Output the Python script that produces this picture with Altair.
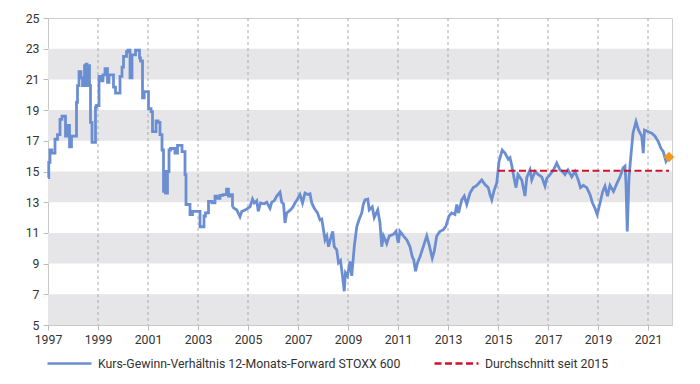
import altair as alt
import pandas as pd

# ---- data ----
# early, monthly-stepped section (decimal year, P/E)
step_years = [1997.00, 1997.03, 1997.08, 1997.15, 1997.28, 1997.38, 1997.48, 1997.56, 1997.70, 1997.76,
              1997.86, 1997.94, 1998.14, 1998.18, 1998.24, 1998.32, 1998.38, 1998.46, 1998.52, 1998.56,
              1998.62, 1998.66, 1998.70, 1998.76, 1998.90, 1998.94, 1999.04, 1999.12, 1999.20, 1999.28,
              1999.38, 1999.44, 1999.62, 1999.70, 1999.88, 1999.96, 2000.02, 2000.14, 2000.20, 2000.28,
              2000.36, 2000.50, 2000.66, 2000.70, 2000.78, 2000.85, 2001.02, 2001.12, 2001.18, 2001.32,
              2001.40, 2001.48, 2001.56, 2001.62, 2001.66, 2001.70, 2001.78, 2001.84, 2001.90, 2002.08,
              2002.18, 2002.36, 2002.48, 2002.52, 2002.68, 2002.78, 2003.08, 2003.24, 2003.30, 2003.42,
              2003.56, 2003.68, 2003.76, 2003.88, 2004.00, 2004.14, 2004.22, 2004.30, 2004.38]
step_values = [14.6, 15.6, 16.4, 16.2, 17.1, 17.4, 18.4, 18.6, 17.3, 18.0,
               16.6, 17.3, 19.5, 20.6, 21.5, 21.1, 20.6, 21.9, 22.0, 20.6,
               21.9, 20.6, 18.2, 16.9, 19.2, 19.3, 21.2, 20.9, 21.3, 21.7,
               20.8, 21.3, 20.5, 20.1, 21.2, 21.8, 22.5, 22.8, 22.9, 21.1,
               22.6, 22.9, 22.4, 22.2, 19.8, 20.2, 19.1, 18.9, 17.6, 18.3,
               18.2, 17.4, 16.4, 13.7, 15.0, 13.6, 15.0, 16.4, 16.5, 16.2,
               16.7, 16.3, 14.8, 12.85, 12.2, 12.4, 11.4, 12.1, 12.3, 13.05,
               12.95, 13.4, 13.25, 13.45, 13.5, 13.85, 13.4, 13.5, 12.7]

# later, weekly-looking section
line_years = [2004.38, 2004.45, 2004.55, 2004.68, 2004.75, 2004.90, 2005.08, 2005.18, 2005.25, 2005.35,
              2005.41, 2005.50, 2005.65, 2005.75, 2005.88, 2005.95, 2006.05, 2006.15, 2006.28, 2006.35,
              2006.42, 2006.48, 2006.55, 2006.70, 2006.80, 2006.88, 2006.98, 2007.08, 2007.18, 2007.28,
              2007.40, 2007.48, 2007.55, 2007.65, 2007.78, 2007.88, 2007.95, 2008.02, 2008.08, 2008.15,
              2008.22, 2008.30, 2008.39, 2008.45, 2008.55, 2008.62, 2008.70, 2008.78, 2008.85, 2008.90,
              2008.98, 2009.08, 2009.15, 2009.25, 2009.35, 2009.45, 2009.55, 2009.61, 2009.68, 2009.79,
              2009.85, 2009.97, 2010.05, 2010.19, 2010.28, 2010.35, 2010.42, 2010.55, 2010.65, 2010.81,
              2010.92, 2011.01, 2011.08, 2011.22, 2011.35, 2011.48, 2011.57, 2011.63, 2011.70, 2011.78,
              2011.88, 2012.01, 2012.15, 2012.25, 2012.37, 2012.45, 2012.55, 2012.68, 2012.81, 2012.92,
              2013.04, 2013.15, 2013.28, 2013.35, 2013.42, 2013.55, 2013.65, 2013.75, 2013.88, 2014.01,
              2014.12, 2014.24, 2014.35, 2014.48, 2014.61, 2014.68, 2014.75, 2014.85, 2014.95, 2015.04,
              2015.17, 2015.28, 2015.41, 2015.48, 2015.55, 2015.65, 2015.72, 2015.80, 2015.95, 2016.08,
              2016.15, 2016.28, 2016.35, 2016.48, 2016.61, 2016.75, 2016.88, 2016.95, 2017.08, 2017.22,
              2017.35, 2017.48, 2017.58, 2017.68, 2017.80, 2017.95, 2018.08, 2018.21, 2018.30, 2018.41,
              2018.55, 2018.68, 2018.78, 2018.88, 2018.97, 2019.08, 2019.19, 2019.28, 2019.38, 2019.48,
              2019.62, 2019.75, 2019.88, 2020.01, 2020.08, 2020.12, 2020.17, 2020.24, 2020.32, 2020.40,
              2020.52, 2020.62, 2020.75, 2020.81, 2020.86, 2021.00, 2021.15, 2021.28, 2021.41, 2021.52,
              2021.61, 2021.72, 2021.81]
line_values = [12.7, 12.6, 12.5, 12.05, 12.4, 12.5, 12.7, 13.2, 12.95, 13.1,
               12.4, 12.95, 12.9, 13.0, 12.6, 13.0, 13.1, 13.4, 13.65, 13.0,
               12.9, 11.65, 12.3, 12.5, 12.7, 12.95, 13.2, 13.5, 12.95, 13.6,
               13.5, 13.55, 12.95, 12.6, 12.3, 11.85, 11.9, 11.2, 10.55, 10.8,
               10.1, 10.6, 11.1, 10.1, 9.9, 9.05, 9.2, 8.2, 7.2, 8.4,
               8.2, 9.15, 8.2, 10.1, 11.4, 11.9, 12.3, 12.85, 13.15, 13.2,
               12.5, 12.7, 12.0, 12.5, 11.65, 10.1, 10.8, 10.3, 10.8, 10.9,
               11.1, 10.35, 11.1, 10.8, 10.55, 10.1, 9.45, 9.25, 8.5, 9.05,
               9.45, 10.1, 10.8, 10.2, 9.35, 9.8, 10.8, 11.1, 11.2, 11.45,
               12.1, 12.3, 12.2, 12.85, 12.3, 13.15, 13.4, 12.85, 13.6, 13.95,
               14.05, 14.25, 14.45, 14.15, 13.95, 13.5, 13.15, 13.8, 14.25, 15.65,
               16.4, 16.2, 15.8, 15.9, 15.4, 14.5, 13.95, 14.8, 14.45, 13.4,
               14.6, 15.1, 14.45, 15.0, 14.8, 14.65, 14.05, 14.55, 14.8, 15.1,
               15.55, 15.1, 15.0, 14.8, 15.1, 14.65, 15.0, 14.45, 13.95, 14.1,
               13.95, 13.5, 12.95, 12.6, 12.2, 12.95, 13.7, 14.05, 13.4, 14.1,
               13.7, 14.2, 14.65, 15.25, 15.35, 14.2, 11.1, 14.6, 16.1, 17.5,
               18.25, 17.7, 17.3, 16.2, 17.7, 17.6, 17.5, 17.3, 16.95, 16.5,
               16.3, 15.65, 15.9]

avg_years = [2015.0, 2021.84]
avg_values = [15.05, 15.05]

last_year = [2021.84]
last_value = [15.95]

series_names = ["Kurs-Gewinn-Verhältnis 12-Monats-Forward STOXX 600", "Durchschnitt seit 2015"]
series_colors = ["#6b8ed2", "#d0112b"]

tick_years = list(range(1997, 2022, 2))
grid_years = list(range(1999, 2022, 2))
y_ticks = list(range(5, 26, 2))
band_lo = [5, 9, 13, 17, 21]
band_hi = [7, 11, 15, 19, 23]

FONT = "Roboto"
FS = 12.3

# ---- tables ----
step_df = pd.DataFrame({"year": step_years, "pe": step_values, "series": series_names[0]})
line_df = pd.DataFrame({"year": line_years, "pe": line_values, "series": series_names[0]})
avg_df = pd.DataFrame({"year": avg_years, "pe": avg_values, "series": series_names[1]})
last_df = pd.DataFrame({"year": last_year, "pe": last_value})
band_df = pd.DataFrame({"lo": band_lo, "hi": band_hi})
grid_df = pd.DataFrame({"year": grid_years})

xscale = alt.Scale(domain=[1997, 2021.96], nice=False, zero=False)
yscale = alt.Scale(domain=[5, 25], nice=False, zero=False)

xaxis = alt.Axis(values=tick_years, format="d", title=None, grid=False, labelFontSize=FS, labelFont=FONT,
                 labelColor="#333333", tickColor="#bbbbbb", domainColor="#c8c8c8", tickSize=5,
                 labelPadding=3, labelOverlap=False, labelFlush=False)
yaxis = alt.Axis(values=y_ticks, title=None, grid=False, labelFontSize=FS, labelFont=FONT,
                 labelColor="#333333", tickColor="#bbbbbb", domainColor="#c8c8c8", tickSize=5,
                 labelPadding=4, labelOverlap=False, labelFlush=False)

legend = alt.Legend(
    title=None, orient="none", legendX=-2, legendY=322, direction="horizontal",
    symbolType="stroke", symbolSize=1936, symbolStrokeWidth=2.5,
    labelFontSize=FS, labelFont=FONT, labelColor="#333333", labelLimit=0,
    columnPadding=28, labelOffset=5,
)
color = alt.Color("series:N", scale=alt.Scale(domain=series_names, range=series_colors), legend=legend)
dash = alt.StrokeDash("series:N", scale=alt.Scale(domain=series_names, range=[[1, 0], [7, 3.5]]), legend=legend)

X = alt.X("year:Q", scale=xscale, axis=xaxis)
Y = alt.Y("pe:Q", scale=yscale, axis=yaxis)

bands = alt.Chart(band_df).mark_rect(color="#e6e6e9").encode(
    y=alt.Y("lo:Q", scale=yscale, axis=yaxis),
    y2="hi:Q",
)

grid = alt.Chart(grid_df).mark_rule(color="#aaaaaa", strokeDash=[3, 3], strokeWidth=1).encode(x=X)

step_line = alt.Chart(step_df).mark_line(strokeWidth=2.8, interpolate="step-after").encode(
    x=X, y=Y, color=color, strokeDash=dash)

main_line = alt.Chart(line_df).mark_line(strokeWidth=2.8).encode(
    x=X, y=Y, color=color, strokeDash=dash)

avg_line = alt.Chart(avg_df).mark_line(strokeWidth=2.2).encode(
    x=X, y=Y, color=color, strokeDash=dash)

last_point = alt.Chart(last_df).mark_point(shape="diamond", filled=True, size=110, color="#f39a1e", opacity=1).encode(
    x=X, y=Y)

chart = alt.layer(bands, grid, step_line, main_line, avg_line, last_point).properties(
    width=624, height=307,
    autosize=alt.AutoSizeParams(type="none"),
    padding={"left": 40, "top": 10, "right": 14, "bottom": 55},
).configure_view(stroke="#cfcfcf", strokeWidth=1)

chart.save("out.html", embed_options={"renderer": "svg", "actions": False})
